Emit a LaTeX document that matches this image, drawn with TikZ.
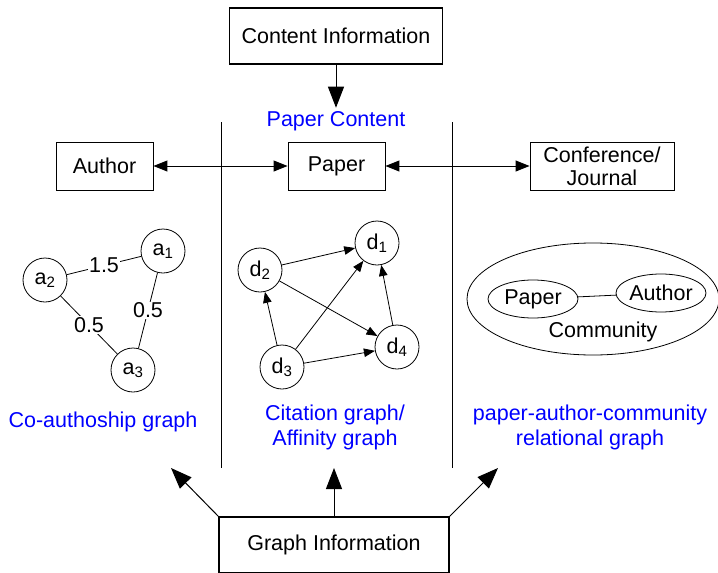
\documentclass[tikz,border=0pt]{standalone}
\usepackage{fontspec}
\setmainfont{Liberation Sans}
\usetikzlibrary{arrows.meta,shapes.geometric}

\definecolor{labelblue}{RGB}{0,0,255}

\tikzset{
  txt/.style={font=\fontsize{21.5}{25}\selectfont},
  infobox/.style={draw, line width=1.5pt, inner sep=0pt, txt},
  entbox/.style={draw, line width=0.9pt, inner sep=0pt, minimum width=97pt, minimum height=48pt, txt, align=center},
  vnode/.style={draw, circle, line width=0.8pt, minimum size=44pt, inner sep=0pt, txt},
  subellipse/.style={draw, ellipse, line width=0.8pt, minimum width=90pt, minimum height=38pt, inner sep=0pt, txt},
  bluetxt/.style={txt, text=labelblue, align=center},
  wlabel/.style={fill=white, inner sep=1pt, txt},
  bigarrow/.style={line width=1pt, -{Triangle[length=21pt,width=16pt]}},
  linkarrow/.style={line width=1pt, {Triangle[length=14pt,width=11pt]}-{Triangle[length=14pt,width=11pt]}},
  edgearrow/.style={line width=0.8pt, -{Triangle[length=11pt,width=8.5pt]}},
  sep/.style={line width=0.8pt}
}

\begin{document}
\begin{tikzpicture}[x=1pt,y=-1pt]
  \useasboundingbox (0,0) rectangle (718,573);

  % top: content source and the entity row
  \node[infobox, minimum width=213pt, minimum height=56pt] (content) at (336,36) {Content Information};
  \node[bluetxt] (pcontent) at (336,121) {Paper Content};
  \node[entbox] (author) at (104.5,166) {Author};
  \node[entbox] (paper) at (336.5,166) {Paper};
  \node[entbox, minimum width=144pt, font=\fontsize{21.5}{23}\selectfont] (conf) at (602,166) {Conference/\\Journal};

  \draw[bigarrow] (content.south) -- (pcontent.north);
  \draw[linkarrow] (author.east) -- (paper.west);
  \draw[linkarrow] (paper.east) -- (conf.west);

  % column separators
  \coordinate (s1t) at (221,122);
  \coordinate (s1b) at (221,468);
  \coordinate (s2t) at (452,122);
  \coordinate (s2b) at (452,468);
  \draw[sep] (s1t) -- (s1b);
  \draw[sep] (s2t) -- (s2b);

  % co-authorship graph
  \node[vnode] (a1) at (163,251) {a\textsubscript{1}};
  \node[vnode] (a2) at (45,280) {a\textsubscript{2}};
  \node[vnode] (a3) at (133,370) {a\textsubscript{3}};
  \draw[line width=0.8pt] (a2) -- node[wlabel] {1.5} (a1);
  \draw[line width=0.8pt] (a1) -- node[wlabel] {0.5} (a3);
  \draw[line width=0.8pt] (a2) -- node[wlabel] {0.5} (a3);

  % citation graph
  \node[vnode] (d1) at (377,243) {d\textsubscript{1}};
  \node[vnode] (d2) at (260,270) {d\textsubscript{2}};
  \node[vnode] (d3) at (282,367) {d\textsubscript{3}};
  \node[vnode] (d4) at (397,347) {d\textsubscript{4}};
  \draw[edgearrow] (d2) -- (d1);
  \draw[edgearrow] (d3) -- (d1);
  \draw[edgearrow] (d4) -- (d1);
  \draw[edgearrow] (d2) -- (d4);
  \draw[edgearrow] (d3) -- (d2);
  \draw[edgearrow] (d3) -- (d4);

  % paper-author-community graph
  \node[draw, ellipse, line width=0.8pt, minimum width=252pt, minimum height=112pt, inner sep=0pt] (comm) at (593,299) {};
  \node[subellipse] (cpaper) at (533,299) {Paper};
  \node[subellipse] (cauthor) at (661,293) {Author};
  \draw[line width=0.8pt] (cpaper) -- (cauthor);
  \node[txt] (commlabel) at (603,332) {Community};

  % graph captions
  \node[bluetxt] (cap1) at (103,422) {Co-authoship graph};
  \node[bluetxt] (cap2) at (335,427) {Citation graph/\\Affinity graph};
  \node[bluetxt] (cap3) at (590,427) {paper-author-community\\relational graph};

  % bottom: graph source
  \node[infobox, minimum width=230pt, minimum height=56pt] (graph) at (334,545) {Graph Information};
  \coordinate (gl) at (171,468);
  \coordinate (gm) at (334,468);
  \coordinate (gr) at (498,468);
  \draw[bigarrow] (graph.north west) -- (gl);
  \draw[bigarrow] (graph.north) -- (gm);
  \draw[bigarrow] (graph.north east) -- (gr);
\end{tikzpicture}
\end{document}
